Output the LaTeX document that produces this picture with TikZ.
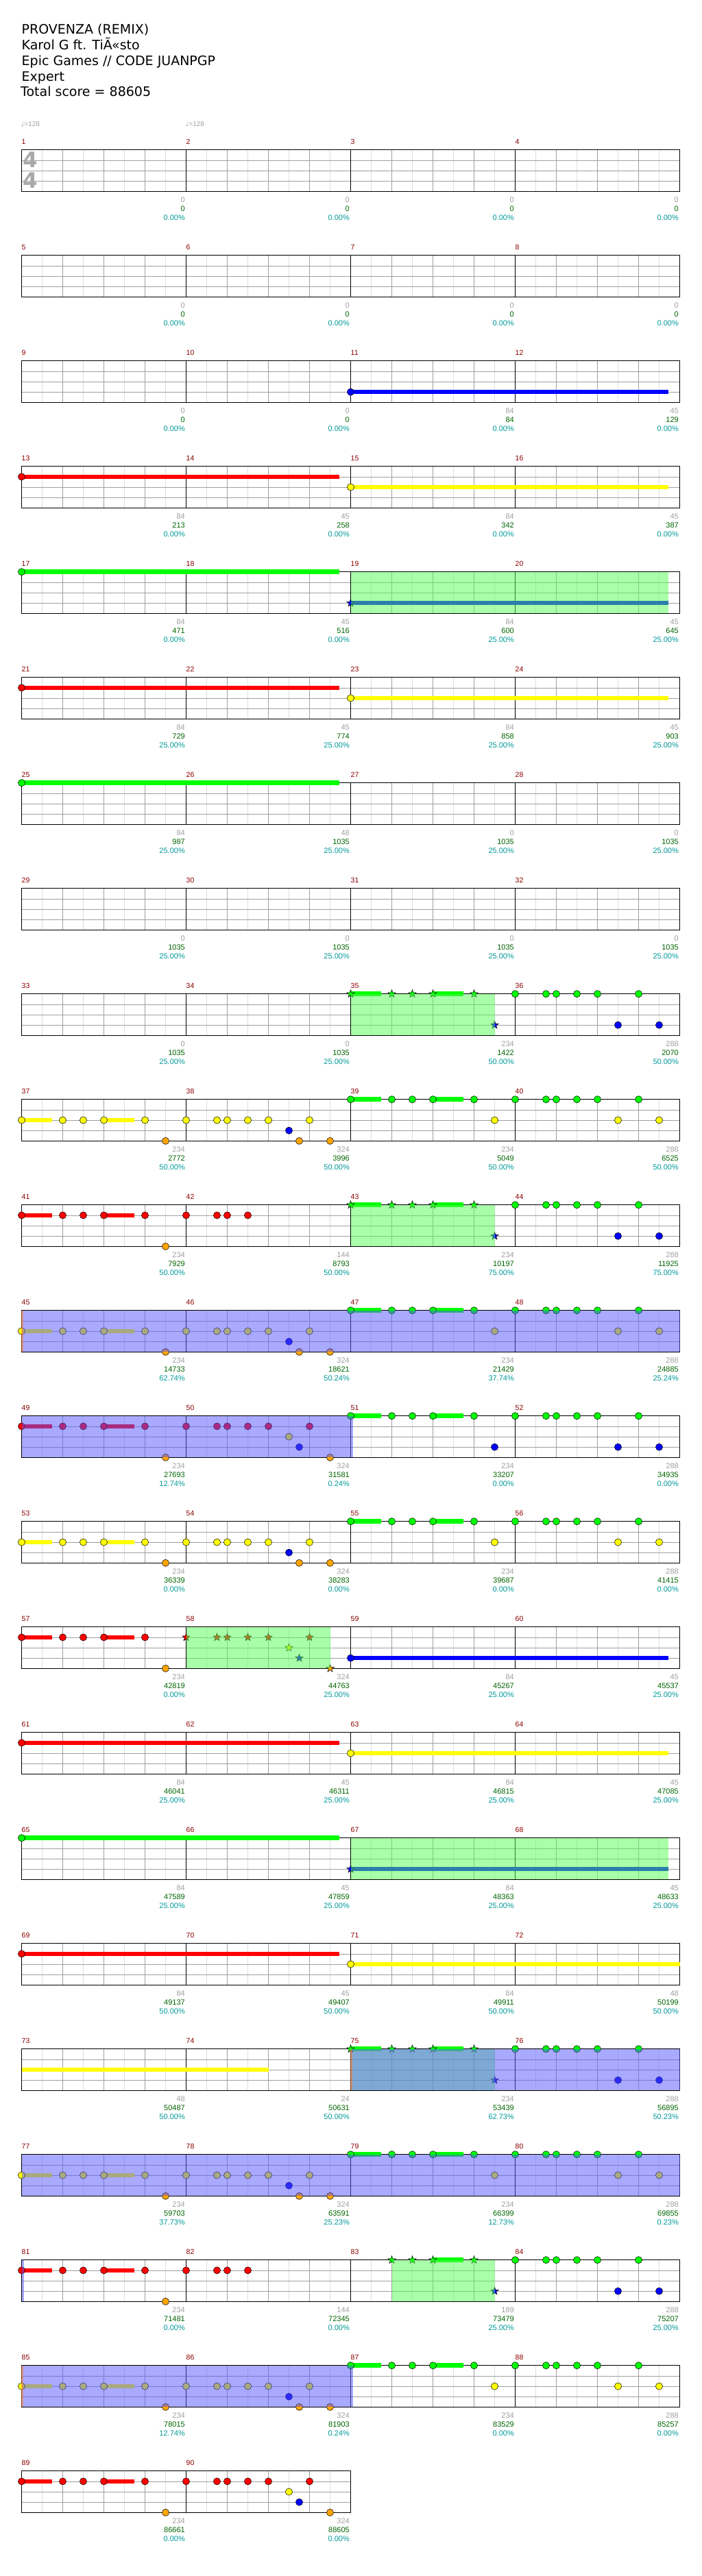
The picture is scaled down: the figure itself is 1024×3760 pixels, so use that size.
\documentclass[tikz,border=0pt]{standalone}
\usepackage{fontspec}
\setmainfont{DejaVu Sans}
\newfontfamily\numfont{Liberation Sans}
\newfontfamily\dejavu{DejaVu Sans}
\definecolor{mnum}{HTML}{8B0000}
\definecolor{gnum}{HTML}{A0A0A0}
\definecolor{snum}{HTML}{006400}
\definecolor{pnum}{HTML}{009999}
\definecolor{gline}{HTML}{A0A0A0}
\definecolor{lline}{HTML}{DEDEDE}
\definecolor{tsig}{HTML}{A8A8A8}
\definecolor{ngreen}{HTML}{00FF00}
\definecolor{nred}{HTML}{FF0000}
\definecolor{nyellow}{HTML}{FFFF00}
\definecolor{nblue}{HTML}{0000FF}
\definecolor{norange}{HTML}{FFA500}
\definecolor{spgreen}{HTML}{55FF55}
\definecolor{spblue}{HTML}{5555FF}
\definecolor{actc}{HTML}{FF8030}
\tikzset{
 mnumst/.style={anchor=west,inner sep=0pt,text=mnum,font=\numfont\fontsize{10.5}{12}\selectfont},
 gst/.style={anchor=east,inner sep=0pt,text=gnum,font=\numfont\fontsize{11}{12}\selectfont},
 sst/.style={anchor=east,inner sep=0pt,text=snum,font=\numfont\fontsize{11}{12}\selectfont},
 pst/.style={anchor=east,inner sep=0pt,text=pnum,font=\numfont\fontsize{11}{12}\selectfont},
 titlest/.style={anchor=base west,inner sep=0pt,font=\fontsize{19}{22}\selectfont},
 tsst/.style={inner sep=0pt,text=tsig,font=\dejavu\bfseries\fontsize{31}{31}\selectfont},
 tempost/.style={anchor=west,inner sep=0pt,text=gnum,font=\numfont\fontsize{10}{12}\selectfont},
 notest/.style={draw=black,line width=0.5pt}
}
\newcommand\setrow[1]{\pgfmathsetmacro\rowT{218.7+154*(#1)}}
\newcommand\gridrow[3]{%
 \setrow{#1}%
 \pgfmathtruncatemacro\nE{8*#3}%
 \pgfmathtruncatemacro\nM{#3-1}%
 \pgfmathsetmacro\rowR{31.5+240*#3}%
 \foreach \e in {1,3,...,\nE} {\draw[lline,line width=0.7pt] ({31.5+30*\e},\rowT) -- ++(0,60.6);}
 \foreach \l in {1,2,3} {\draw[gline,line width=0.7pt] (31.5,{\rowT+15.15*\l}) -- (\rowR,{\rowT+15.15*\l});}
 \foreach \e in {2,4,...,\nE} {\draw[gline,line width=0.7pt] ({31.5+30*\e},\rowT) -- ++(0,60.6);}
 \foreach \m in {1,...,\nM} {\draw[black,line width=0.6pt] ({31.5+240*\m},\rowT) -- ++(0,60.6);}
 \draw[black,line width=1.2pt] (31.5,\rowT) rectangle (\rowR,{\rowT+60.6});
 \foreach \m in {0,...,\nM} {\pgfmathtruncatemacro\mn{#2+\m}\node[mnumst] (m\mn) at ({31.5+240*\m},{\rowT-11.5}) {\mn};}
}
\newcommand\scm[5]{%
 \node[gst] (g#2) at ({31.5+240*(#1)-1.5},{\rowT+72.6}) {#3};
 \node[sst] (s#2) at ({31.5+240*(#1)-1.5},{\rowT+85.6}) {#4};
 \node[pst] (p#2) at ({31.5+240*(#1)-1.5},{\rowT+98.6}) {#5\%};}
\newcommand\hnote[3]{\filldraw[notest,fill=#3] ({31.5+30*(#1)},{\rowT+15.15*((#2)-1)}) circle[radius=5.1];}
\newcommand\hsus[4]{\draw[#3,line width=6.5pt] ({31.5+30*(#1)},{\rowT+15.15*((#2)-1)}) -- ++({30*(#4)},0);}
\newcommand\hstar[3]{\filldraw[notest,fill=#3] ({31.5+30*(#1)},{\rowT+15.15*((#2)-1)}) +(-90:6) -- +(-54:2.4) -- +(-18:6) -- +(18:2.4) -- +(54:6) -- +(90:2.4) -- +(126:6) -- +(162:2.4) -- +(198:6) -- +(234:2.4) -- cycle;}
\newcommand\sprect[2]{\fill[spgreen,opacity=0.5] ({31.5+30*(#1)},\rowT) rectangle ({31.5+30*(#2)},{\rowT+60.6});}
\newcommand\burect[2]{\fill[spblue,opacity=0.5] ({31.5+30*(#1)},\rowT) rectangle ({31.5+30*(#2)},{\rowT+60.6});}
\newcommand\actline[1]{\fill[actc,opacity=0.5] ({31.5+30*(#1)-1},\rowT) rectangle ({31.5+30*(#1)+2.5},{\rowT+60.6});}
\newcommand\patAy{%
 \hsus{0}{3}{nyellow}{1.48}\hsus{4}{3}{nyellow}{1.48}%
 \foreach \e in {0,2,3,4,6,8,9.5,10,11,12,14} {\hnote{\e}{3}{nyellow}}
 \foreach \e in {7,13.5,15} {\hnote{\e}{5}{norange}}
 \hnote{13}{4}{nblue}}
\newcommand\patAr{%
 \hsus{0}{2}{nred}{1.48}\hsus{4}{2}{nred}{1.48}%
 \foreach \e in {0,2,3,4,6,8,9.5,10,11,12,14} {\hnote{\e}{2}{nred}}
 \foreach \e in {7,15} {\hnote{\e}{5}{norange}}
 \hnote{13}{3}{nyellow}\hnote{13.5}{4}{nblue}}
\newcommand\patArShort{%
 \hsus{0}{2}{nred}{1.48}\hsus{4}{2}{nred}{1.48}%
 \foreach \e in {0,2,3,4,6,8,9.5,10,11} {\hnote{\e}{2}{nred}}
 \hnote{7}{5}{norange}}
\newcommand\patB[2]{%
 \hsus{16}{1}{ngreen}{1.48}\hsus{20}{1}{ngreen}{1.48}%
 \foreach \e in {16,18,19,20,22,24,25.5,26,27,28,30} {\hnote{\e}{1}{ngreen}}
 \foreach \e in {23,29,31} {\hnote{\e}{#1}{#2}}}
\newcommand\patBs[1]{%
 \hsus{20}{1}{ngreen}{1.48}%
 \foreach \e in {#1} {\hstar{\e}{1}{ngreen}}
 \hstar{23}{4}{nblue}%
 \foreach \e in {24,25.5,26,27,28,30} {\hnote{\e}{1}{ngreen}}
 \foreach \e in {29,31} {\hnote{\e}{4}{nblue}}}
\begin{document}
\begin{tikzpicture}[x=1pt,y=-1pt]
\useasboundingbox (0,0) rectangle (1024,3760);
\fill[white] (0,0) rectangle (1024,3760);
\node[titlest] (t1) at (31.5,50) {PROVENZA (REMIX)};
\node[titlest] (t2) at (31.5,72.7) {Karol G ft. TiÃ«sto};
\node[titlest] (t3) at (31.5,95.5) {Epic Games // CODE JUANPGP};
\node[titlest] (t4) at (31.5,118.2) {Expert};
\node[titlest] (t5) at (30,141) {Total score = 88605};
% row 1
\gridrow{0}{1}{4}
\node[tsst] (ts1) at (44,233.5) {4};
\node[tsst] (ts2) at (44,263.5) {4};
\node[tempost] (tp1) at (30.5,181) {{\dejavu ♩}=128};
\node[tempost] (tp2) at (270.5,181) {{\dejavu ♩}=128};
\scm{1}{1}{0}{0}{0.00}\scm{2}{2}{0}{0}{0.00}\scm{3}{3}{0}{0}{0.00}\scm{4}{4}{0}{0}{0.00}
% row 2
\gridrow{1}{5}{4}
\scm{1}{5}{0}{0}{0.00}\scm{2}{6}{0}{0}{0.00}\scm{3}{7}{0}{0}{0.00}\scm{4}{8}{0}{0}{0.00}
% row 3
\gridrow{2}{9}{4}
\hsus{16}{4}{nblue}{15.455}\hnote{16}{4}{nblue}
\scm{1}{9}{0}{0}{0.00}\scm{2}{10}{0}{0}{0.00}\scm{3}{11}{84}{84}{0.00}\scm{4}{12}{45}{129}{0.00}
% row 4
\gridrow{3}{13}{4}
\hsus{0}{2}{nred}{15.455}\hnote{0}{2}{nred}
\hsus{16}{3}{nyellow}{15.455}\hnote{16}{3}{nyellow}
\scm{1}{13}{84}{213}{0.00}\scm{2}{14}{45}{258}{0.00}\scm{3}{15}{84}{342}{0.00}\scm{4}{16}{45}{387}{0.00}
% row 5
\gridrow{4}{17}{4}
\hsus{0}{1}{ngreen}{15.455}\hnote{0}{1}{ngreen}
\hsus{16}{4}{nblue}{15.455}\hstar{16}{4}{nblue}
\sprect{16}{31.455}
\scm{1}{17}{84}{471}{0.00}\scm{2}{18}{45}{516}{0.00}\scm{3}{19}{84}{600}{25.00}\scm{4}{20}{45}{645}{25.00}
% row 6
\gridrow{5}{21}{4}
\hsus{0}{2}{nred}{15.455}\hnote{0}{2}{nred}
\hsus{16}{3}{nyellow}{15.455}\hnote{16}{3}{nyellow}
\scm{1}{21}{84}{729}{25.00}\scm{2}{22}{45}{774}{25.00}\scm{3}{23}{84}{858}{25.00}\scm{4}{24}{45}{903}{25.00}
% row 7
\gridrow{6}{25}{4}
\hsus{0}{1}{ngreen}{15.455}\hnote{0}{1}{ngreen}
\scm{1}{25}{84}{987}{25.00}\scm{2}{26}{48}{1035}{25.00}\scm{3}{27}{0}{1035}{25.00}\scm{4}{28}{0}{1035}{25.00}
% row 8
\gridrow{7}{29}{4}
\scm{1}{29}{0}{1035}{25.00}\scm{2}{30}{0}{1035}{25.00}\scm{3}{31}{0}{1035}{25.00}\scm{4}{32}{0}{1035}{25.00}
% row 9
\gridrow{8}{33}{4}
\hsus{16}{1}{ngreen}{1.48}\patBs{16,18,19,20,22}
\sprect{16}{23}
\scm{1}{33}{0}{1035}{25.00}\scm{2}{34}{0}{1035}{25.00}\scm{3}{35}{234}{1422}{50.00}\scm{4}{36}{288}{2070}{50.00}
% row 10
\gridrow{9}{37}{4}
\patAy\patB{3}{nyellow}
\scm{1}{37}{234}{2772}{50.00}\scm{2}{38}{324}{3996}{50.00}\scm{3}{39}{234}{5049}{50.00}\scm{4}{40}{288}{6525}{50.00}
% row 11
\gridrow{10}{41}{4}
\patArShort
\hsus{16}{1}{ngreen}{1.48}\patBs{16,18,19,20,22}
\sprect{16}{23}
\scm{1}{41}{234}{7929}{50.00}\scm{2}{42}{144}{8793}{50.00}\scm{3}{43}{234}{10197}{75.00}\scm{4}{44}{288}{11925}{75.00}
% row 12
\gridrow{11}{45}{4}
\patAy\patB{3}{nyellow}
\burect{0}{32}\actline{0}
\scm{1}{45}{234}{14733}{62.74}\scm{2}{46}{324}{18621}{50.24}\scm{3}{47}{234}{21429}{37.74}\scm{4}{48}{288}{24885}{25.24}
% row 13
\gridrow{12}{49}{4}
\patAr\patB{4}{nblue}
\burect{0}{16.12}
\scm{1}{49}{234}{27693}{12.74}\scm{2}{50}{324}{31581}{0.24}\scm{3}{51}{234}{33207}{0.00}\scm{4}{52}{288}{34935}{0.00}
% row 14
\gridrow{13}{53}{4}
\patAy\patB{3}{nyellow}
\scm{1}{53}{234}{36339}{0.00}\scm{2}{54}{324}{38283}{0.00}\scm{3}{55}{234}{39687}{0.00}\scm{4}{56}{288}{41415}{0.00}
% row 15
\gridrow{14}{57}{4}
\hsus{0}{2}{nred}{1.48}\hsus{4}{2}{nred}{1.48}
\foreach \e in {0,2,3,4,6} {\hnote{\e}{2}{nred}}
\hnote{7}{5}{norange}
\foreach \e in {8,9.5,10,11,12,14} {\hstar{\e}{2}{nred}}
\hstar{13}{3}{nyellow}\hstar{13.5}{4}{nblue}\hstar{15}{5}{norange}
\hsus{16}{4}{nblue}{15.455}\hnote{16}{4}{nblue}
\sprect{8}{15}
\scm{1}{57}{234}{42819}{0.00}\scm{2}{58}{324}{44763}{25.00}\scm{3}{59}{84}{45267}{25.00}\scm{4}{60}{45}{45537}{25.00}
% row 16
\gridrow{15}{61}{4}
\hsus{0}{2}{nred}{15.455}\hnote{0}{2}{nred}
\hsus{16}{3}{nyellow}{15.455}\hnote{16}{3}{nyellow}
\scm{1}{61}{84}{46041}{25.00}\scm{2}{62}{45}{46311}{25.00}\scm{3}{63}{84}{46815}{25.00}\scm{4}{64}{45}{47085}{25.00}
% row 17
\gridrow{16}{65}{4}
\hsus{0}{1}{ngreen}{15.455}\hnote{0}{1}{ngreen}
\hsus{16}{4}{nblue}{15.455}\hstar{16}{4}{nblue}
\sprect{16}{31.455}
\scm{1}{65}{84}{47589}{25.00}\scm{2}{66}{45}{47859}{25.00}\scm{3}{67}{84}{48363}{25.00}\scm{4}{68}{45}{48633}{25.00}
% row 18
\gridrow{17}{69}{4}
\hsus{0}{2}{nred}{15.455}\hnote{0}{2}{nred}
\hsus{16}{3}{nyellow}{16}\hnote{16}{3}{nyellow}
\scm{1}{69}{84}{49137}{50.00}\scm{2}{70}{45}{49407}{50.00}\scm{3}{71}{84}{49911}{50.00}\scm{4}{72}{48}{50199}{50.00}
% row 19
\gridrow{18}{73}{4}
\hsus{0}{3}{nyellow}{12}
\hsus{16}{1}{ngreen}{1.48}\patBs{16,18,19,20,22}
\sprect{16}{23}\burect{16}{32}\actline{16}
\scm{1}{73}{48}{50487}{50.00}\scm{2}{74}{24}{50631}{50.00}\scm{3}{75}{234}{53439}{62.73}\scm{4}{76}{288}{56895}{50.23}
% row 20
\gridrow{19}{77}{4}
\patAy\patB{3}{nyellow}
\burect{0}{32}
\scm{1}{77}{234}{59703}{37.73}\scm{2}{78}{324}{63591}{25.23}\scm{3}{79}{234}{66399}{12.73}\scm{4}{80}{288}{69855}{0.23}
% row 21
\gridrow{20}{81}{4}
\patArShort
\patBs{18,19,20,22}
\sprect{18}{23}\burect{0}{0.12}
\scm{1}{81}{234}{71481}{0.00}\scm{2}{82}{144}{72345}{0.00}\scm{3}{83}{189}{73479}{25.00}\scm{4}{84}{288}{75207}{25.00}
% row 22
\gridrow{21}{85}{4}
\patAy\patB{3}{nyellow}
\burect{0}{16.12}\actline{0}
\scm{1}{85}{234}{78015}{12.74}\scm{2}{86}{324}{81903}{0.24}\scm{3}{87}{234}{83529}{0.00}\scm{4}{88}{288}{85257}{0.00}
% row 23
\gridrow{22}{89}{2}
\patAr
\scm{1}{89}{234}{86661}{0.00}\scm{2}{90}{324}{88605}{0.00}
\end{tikzpicture}
\end{document}
